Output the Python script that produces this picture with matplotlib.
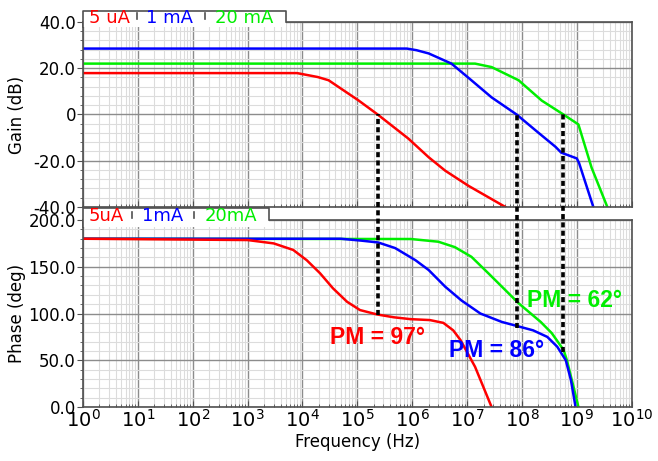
import numpy as np
import matplotlib
matplotlib.use("Agg")
import matplotlib.pyplot as plt
from matplotlib.ticker import LogLocator, MultipleLocator, FixedLocator, FixedFormatter
from matplotlib.patches import Rectangle
from matplotlib.lines import Line2D

# ---- data ----
# gain (dB) vs frequency (Hz)
red_gain_f = [1, 8e3, 1.9e4, 3e4, 1.05e5, 2.35e5, 8.5e5, 2e6, 4e6, 1.07e7, 5e7]
red_gain = [17.9, 17.9, 16.2, 14.8, 6.1, 0, -10.4, -18.5, -24.3, -30.9, -40]
blue_gain_f = [1, 8e5, 1.2e6, 2e6, 5.2e6, 1.2e7, 2.8e7, 8e7, 1.8e8, 4.1e8, 5.2e8, 1e9, 1.1e9, 2e9]
blue_gain = [28.5, 28.5, 27.8, 26.4, 22, 14.8, 7.4, 0, -7, -14, -16.5, -19, -21, -40]
green_gain_f = [1, 1.4e7, 2.8e7, 8.7e7, 2.3e8, 5.7e8, 1.07e9, 1.86e9, 3.6e9]
green_gain = [22, 22, 20.5, 14.8, 6, 0, -4.3, -23, -40]

# phase (deg) vs frequency (Hz)
red_ph_f = [1, 1e3, 3e3, 6.8e3, 1.2e4, 2.1e4, 3.6e4, 6.5e4, 1.12e5, 2.3e5, 4.6e5,
            9.3e5, 2.1e6, 3.7e6, 5.6e6, 7.6e6, 1.4e7, 2.8e7]
red_ph = [180, 178.6, 175, 168, 157, 143, 127, 112.6, 103.7, 99, 96,
          94, 93, 90, 82, 71.6, 43, 0]
blue_ph_f = [1, 5e4, 1.17e5, 2.4e5, 4.9e5, 1.15e6, 2e6, 4e6, 7.9e6, 1.75e7, 4.3e7,
             7e7, 1.6e8, 2.9e8, 4.4e8, 6.3e8, 7.8e8, 9.5e8]
blue_ph = [180, 180, 178, 176, 170, 157, 146.5, 128.7, 114, 100, 91,
           87.7, 82, 75, 64.5, 50, 29, 0]
green_ph_f = [1, 9.5e5, 3e6, 6e6, 1.2e7, 2.45e7, 5e7, 8.7e7, 2.2e8, 3.5e8, 5.75e8,
              6.6e8, 8.7e8, 1.07e9]
green_ph = [180, 179.7, 176.8, 171, 160.7, 143, 125, 111, 91, 79, 61, 50, 21.7, 0]

# unity-gain crossover and phase margins
cross_f = [2.35e5, 8e7, 5.6e8]
cross_ph = [98, 84.5, 59]
pm_text = ["PM = 97°", "PM = 86°", "PM = 62°"]
pm_pos_f = [2.3e5, 3.5e7, 9.1e8]
pm_pos_ph = [74.7, 60.4, 114.4]

top_tabs = ["5 uA", "1 mA", "20 mA"]
bot_tabs = ["5uA", "1mA", "20mA"]
colors = ["#ff0000", "#0000ff", "#00ee00"]

gain_ticks = [-40, -20, 0, 20, 40]
gain_labels = ["-40.0", "-20.0", "0", "20.0", "40.0"]
phase_ticks = [0, 50, 100, 150, 200]
phase_labels = ["0.0", "50.0", "100.0", "150.0", "200.0"]

plt.rcParams['font.family'] = ['DejaVu Sans']
fig = plt.figure(figsize=(6.58, 4.61), dpi=100)
ax1 = fig.add_axes([0.126, 0.551, 0.834, 0.4013])
ax2 = fig.add_axes([0.126, 0.1171, 0.834, 0.4056])

spine_c = "#505050"
for ax in (ax1, ax2):
    ax.set_xscale("log")
    ax.set_xlim(1, 1e10)
    ax.xaxis.set_major_locator(LogLocator(base=10, numticks=20))
    ax.xaxis.set_minor_locator(LogLocator(base=10, subs=np.arange(2, 10), numticks=100))
    ax.grid(which="minor", color="#dcdcdc", lw=0.8)
    ax.grid(which="major", color="#8c8c8c", lw=1.0)
    ax.set_axisbelow(True)
    for s in ax.spines.values():
        s.set_color(spine_c)
        s.set_linewidth(1.2)
    ax.tick_params(axis="x", which="both", direction="in", colors=spine_c, labelcolor="black")
    ax.tick_params(axis="x", which="major", length=4)
    ax.tick_params(axis="x", which="minor", length=2.5)
    ax.tick_params(axis="y", which="major", direction="out", length=4, colors=spine_c,
                   labelcolor="black", labelsize=12, pad=1)
    ax.tick_params(axis="y", which="minor", direction="out", length=2.5, colors=spine_c)

# gain panel
ax1.plot(green_gain_f, green_gain, color=colors[2], lw=1.8)
ax1.plot(blue_gain_f, blue_gain, color=colors[1], lw=1.8)
ax1.plot(red_gain_f, red_gain, color=colors[0], lw=1.8)
ax1.set_ylim(-40, 40)
ax1.yaxis.set_major_locator(FixedLocator(gain_ticks))
ax1.yaxis.set_major_formatter(FixedFormatter(gain_labels))
ax1.yaxis.set_minor_locator(MultipleLocator(4))
ax1.tick_params(axis="x", labelbottom=False)
ax1.set_ylabel("Gain (dB)", fontsize=12)
ax1.yaxis.set_label_coords(-0.103, 0.5)

# phase panel
ax2.plot(green_ph_f, green_ph, color=colors[2], lw=1.8)
ax2.plot(blue_ph_f, blue_ph, color=colors[1], lw=1.8)
ax2.plot(red_ph_f, red_ph, color=colors[0], lw=1.8)
ax2.set_ylim(0, 200)
ax2.yaxis.set_major_locator(FixedLocator(phase_ticks))
ax2.yaxis.set_major_formatter(FixedFormatter(phase_labels))
ax2.yaxis.set_minor_locator(MultipleLocator(10))
ax2.tick_params(axis="x", which="major", labelsize=14, pad=1)
ax2.set_ylabel("Phase (deg)", fontsize=12)
ax2.yaxis.set_label_coords(-0.103, 0.5)
ax2.set_xlabel("Frequency (Hz)", fontsize=12, labelpad=2)

# dotted markers from the 0 dB crossing down to the phase curve
zero_db_in_ax2 = ax2.transData.inverted().transform(ax1.transData.transform((1, 0)))[1]
for f, ph, txt, tf, tp, c in zip(cross_f, cross_ph, pm_text, pm_pos_f, pm_pos_ph, colors):
    ax2.add_line(Line2D([f, f], [ph, zero_db_in_ax2], color="black", lw=2.6,
                        linestyle=(0, (1.4, 0.9)), dash_capstyle="butt",
                        clip_on=False, zorder=5))
    ax2.text(tf, tp, txt, color=c, fontsize=16.5, fontweight="bold", family="Liberation Sans",
             ha="center", va="center", zorder=6)


def draw_tab(ax, right, top, white_bottom, seps, sep_y, labels, label_x, label_y):
    ax.add_patch(Rectangle((0, white_bottom), right, top - white_bottom, transform=ax.transAxes,
                           facecolor="white", edgecolor="none", clip_on=False, zorder=3))
    ax.add_line(Line2D([0, 0, right, right], [white_bottom, top, top, 1.0], transform=ax.transAxes,
                       color=spine_c, lw=1.2, clip_on=False, zorder=4))
    for sx in seps:
        ax.add_line(Line2D([sx, sx], sep_y, transform=ax.transAxes, color=spine_c, lw=1.2,
                           clip_on=False, zorder=4))
    for lab, lx, c in zip(labels, label_x, colors):
        ax.text(lx, label_y, lab, color=c, fontsize=13, ha="center", va="center",
                transform=ax.transAxes, zorder=5)


draw_tab(ax1, 0.370, 1.061, 0.973, [0.099, 0.222], [1.016, 1.049], top_tabs,
         [0.049, 0.158, 0.293], 1.02)
draw_tab(ax2, 0.339, 1.063, 0.964, [0.0887, 0.2027], [1.011, 1.045], bot_tabs,
         [0.042, 0.145, 0.27], 1.021)

fig.savefig("out.png", dpi=100)
